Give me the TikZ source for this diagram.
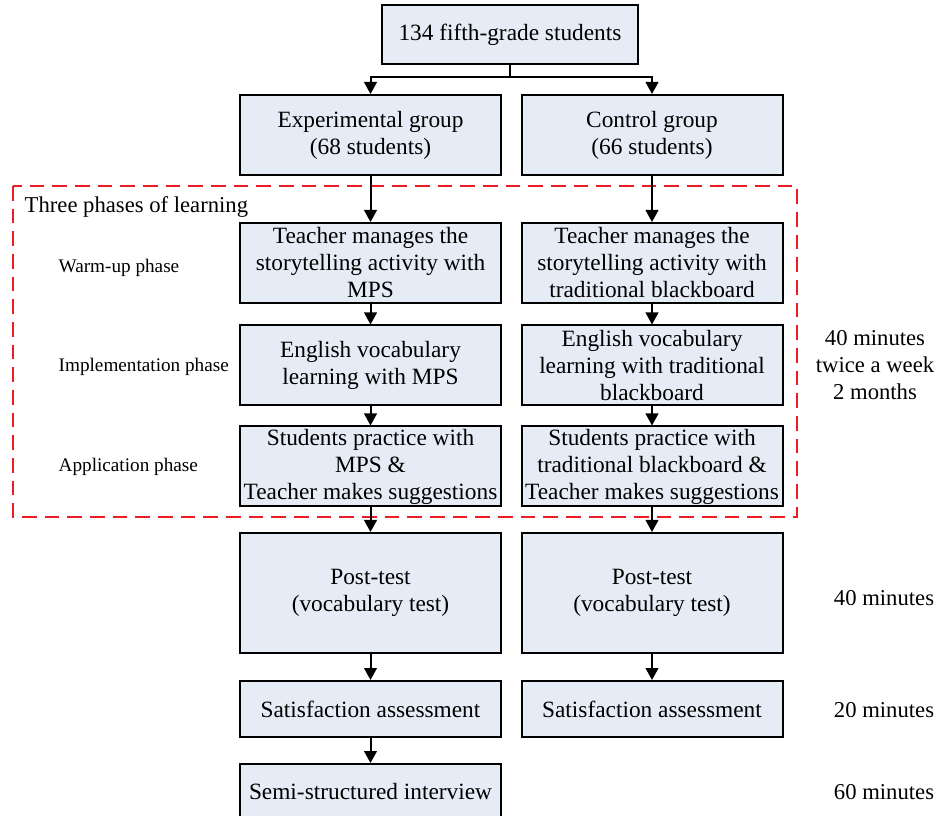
\documentclass[tikz,border=0pt]{standalone}
\usepackage{fontspec}
\setmainfont{Liberation Serif}
\usetikzlibrary{arrows.meta,positioning,calc}
\definecolor{boxfill}{RGB}{230,236,246}
\definecolor{phasered}{RGB}{237,28,36}

\begin{document}
\begin{tikzpicture}[x=0.75pt,y=-0.75pt,
	box/.style={draw,line width=1.5pt,fill=boxfill,align=center,minimum width=195.75pt,minimum height=60pt,inner sep=1pt,font=\fontsize{17.5}{20.25}\selectfont},
	arr/.style={line width=1.5pt,-{Triangle[length=9pt,width=9.5pt]}},
	phase/.style={anchor=west,font=\fontsize{14.4}{17}\selectfont},
	note/.style={align=center,font=\fontsize{17}{20.25}\selectfont}]
\useasboundingbox (0,0) rectangle (936,816);
% learning phases frame
\draw [phasered,line width=1.5pt,dash pattern=on 11pt off 6pt] (13,186) rectangle (797,517);
\node [anchor=west,font=\fontsize{17}{20}\selectfont] (frame) at (20,207) {Three phases of learning};
% participants
\node [box,minimum width=192pt,minimum height=44.25pt] (all) at (510,34.5) {134 fifth-grade students};
\coordinate (split) at (510,77);
\node [box] (expg) at (370.5,135) {Experimental group\\(68 students)};
\node [box] (ctrlg) at (652,135) {Control group\\(66 students)};
% experimental column
\node [box] (warmL) at (370.5,263) {Teacher manages the\\storytelling activity with\\MPS};
\node [box] (implL) at (370.5,365.5) {English vocabulary\\learning with MPS};
\node [box] (applL) at (370.5,466.5) {Students practice with\\MPS \&\\Teacher makes suggestions};
\node [box,minimum height=90pt] (postL) at (370.5,593) {Post-test\\(vocabulary test)};
\node [box,minimum height=42pt] (satL) at (370.5,709) {Satisfaction assessment};
\node [box,minimum height=42pt] (intL) at (370.5,792) {Semi-structured interview};
% control column
\node [box] (warmR) at (652,263) {Teacher manages the\\storytelling activity with\\traditional blackboard};
\node [box] (implR) at (652,365.5) {English vocabulary\\learning with traditional\\blackboard};
\node [box] (applR) at (652,466.5) {Students practice with\\traditional blackboard \&\\Teacher makes suggestions};
\node [box,minimum height=90pt] (postR) at (652,593) {Post-test\\(vocabulary test)};
\node [box,minimum height=42pt] (satR) at (652,709) {Satisfaction assessment};
% phase names
\node [phase] (pwarm) at (54,268) {Warm-up phase};
\node [phase] (pimpl) at (54,367) {Implementation phase};
\node [phase] (pappl) at (54,467) {Application phase};
% durations
\node [note] (tlearn) at (875,365) {40 minutes\\twice a week\\2 months};
\node [note] (tpost) at (884,598) {40 minutes};
\node [note] (tsat) at (884,710) {20 minutes};
\node [note] (tint) at (884,792) {60 minutes};
% arrows
\draw [line width=1.5pt] (all) -- (split);
\draw [arr] (split) -| (expg);
\draw [arr] (split) -| (ctrlg);
\foreach \a/\b in {expg/warmL,warmL/implL,implL/applL,applL/postL,postL/satL,satL/intL,ctrlg/warmR,warmR/implR,implR/applR,applR/postR,postR/satR}
	\draw [arr] (\a) -- (\b);
\end{tikzpicture}
\end{document}
